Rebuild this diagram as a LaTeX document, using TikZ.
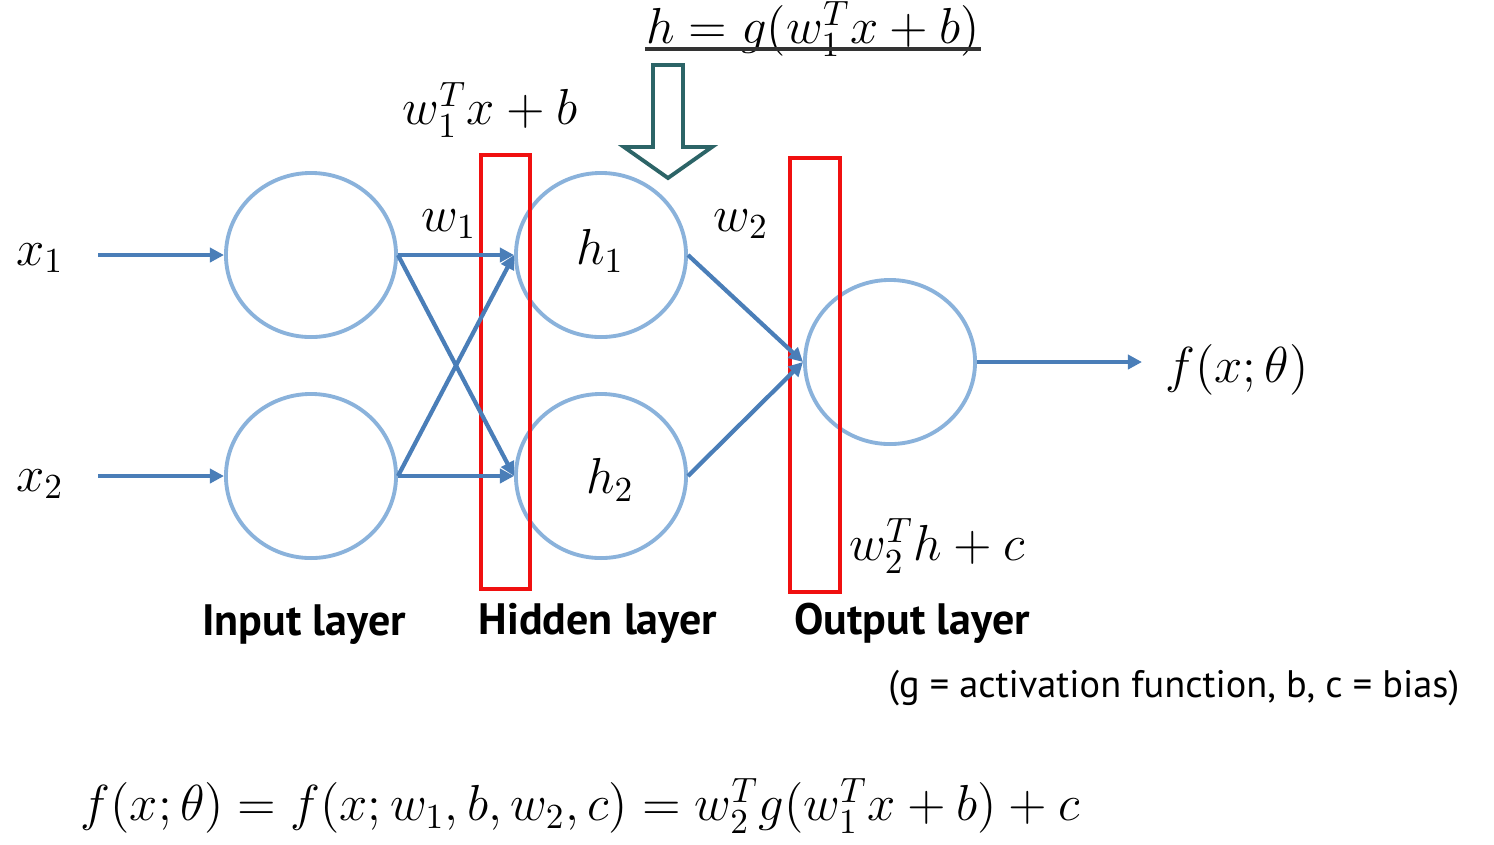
\documentclass[tikz,border=0pt]{standalone}
\usepackage{fontspec}
\newfontfamily\labfont{PT Sans}
\usetikzlibrary{arrows.meta,shapes.geometric}
\definecolor{circblue}{HTML}{8AB2DB}
\definecolor{arrblue}{HTML}{4A7EB8}
\definecolor{teal}{HTML}{2C6467}
\definecolor{boxred}{HTML}{F01010}
\begin{document}
\begin{tikzpicture}[x=0.01cm,y=-0.01cm,
  neuron/.style={ellipse,draw=circblue,line width=1.1pt,minimum width=1.70cm,minimum height=1.64cm,inner sep=0pt},
  conn/.style={draw=arrblue,line width=1.2pt,-{Triangle[length=4pt,width=4pt]}},
  redbox/.style={draw=boxred,line width=1.2pt,minimum width=0.49cm,minimum height=4.34cm,inner sep=0pt},
  mathlab/.style={inner sep=0pt,font=\fontsize{14.5}{18}\selectfont},
  layerlab/.style={inner sep=0pt,font=\labfont\bfseries\fontsize{12.5}{15}\selectfont},
]
\useasboundingbox (0,0) rectangle (1494,844);
% neurons
\node[neuron] (i1) at (311,255) {};
\node[neuron] (i2) at (311,476) {};
\node[neuron] (h1) at (601,255) {};
\node[neuron] (h2) at (601,476) {};
\node[neuron] (o) at (890,362) {};
% red boxes
\node[redbox] (r1) at (505.5,372) {};
\node[redbox,minimum width=0.50cm] (r2) at (815,375) {};
% input arrows
\coordinate (in1) at (98,255);
\coordinate (in2) at (98,476);
\coordinate (out) at (1142,362);
\draw[conn] (in1) -- (i1.west);
\draw[conn] (in2) -- (i2.west);
\draw[conn] (i1.east) -- (h1.west);
\draw[conn] (i1.east) -- (h2.west);
\draw[conn] (i2.east) -- (h1.west);
\draw[conn] (i2.east) -- (h2.west);
\draw[conn] (h1.east) -- (o.west);
\draw[conn] (h2.east) -- (o.west);
\draw[conn] (o.east) -- (out);
% labels
\node[mathlab] (lx1) at (40,258) {$x_1$};
\node[mathlab] (lx2) at (40,484) {$x_2$};
\node[mathlab] (lw1) at (449,224) {$w_1$};
\node[mathlab] (lw2) at (741,224) {$w_2$};
\node[mathlab] (lh1) at (600,251) {$h_1$};
\node[mathlab] (lh2) at (610,480) {$h_2$};
\node[mathlab] (lf) at (1237,370) {$f(x;\theta)$};
\node[mathlab] (lwx) at (490,110) {$w_1^Tx+b$};
\node[mathlab] (lh) at (813,29) {$h=g(w_1^Tx+b)$};
\draw[line width=0.9pt,black!80] (lh.west |- 0,49) -- (lh.east |- 0,49);
\node[mathlab] (lwh) at (937,546) {$w_2^Th+c$};
\node[mathlab,anchor=west] (lbig) at (80,806) {$f(x;\theta)=f(x;w_1,b,w_2,c)=w_2^Tg(w_1^Tx+b)+c$};
% block arrow
\draw[teal,line width=1.1pt,line join=miter] (653,65) -- (683,65) -- (683,147) -- (712,147) -- (668,178) -- (624,147) -- (653,147) -- cycle;
% layer labels
\node[layerlab] (li) at (304,625) {Input layer};
\node[layerlab] (lhid) at (598,623) {Hidden layer};
\node[layerlab] (lo) at (912,623) {Output layer};
\node[inner sep=0pt,anchor=east,font=\labfont\fontsize{10.9}{13}\selectfont] (note) at (1460,688) {(g = activation function, b, c = bias)};
\end{tikzpicture}
\end{document}
